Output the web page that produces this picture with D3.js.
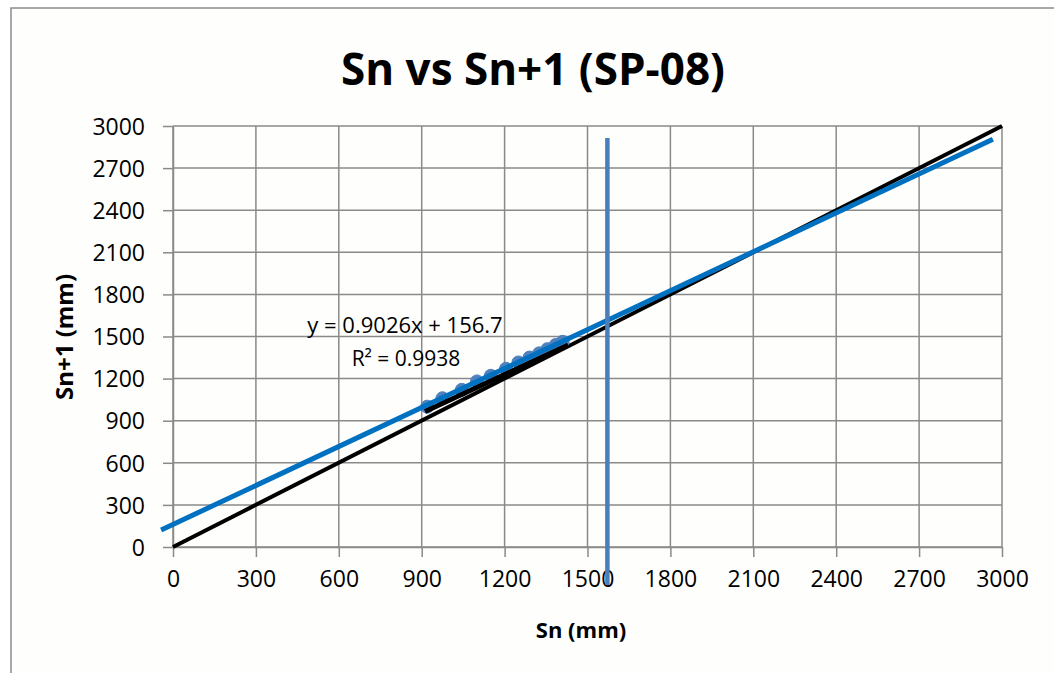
<!DOCTYPE html>
<html>
<head>
<meta charset="utf-8">
<script src="https://cdn.jsdelivr.net/npm/d3@7"></script>
<style>
  html, body { margin: 0; padding: 0; background: #ffffff; }
  svg { display: block; }
  text { font-family: "Open Sans", "Noto Sans", sans-serif; }
</style>
</head>
<body>
<svg id="chart" width="1054" height="673"></svg>
<script>
// ---- data ----
const title = "Sn vs Sn+1 (SP-08)";
const xTitle = "Sn (mm)";
const yTitle = "Sn+1 (mm)";
const xTicks = [0, 300, 600, 900, 1200, 1500, 1800, 2100, 2400, 2700, 3000];
const yTicks = [0, 300, 600, 900, 1200, 1500, 1800, 2100, 2400, 2700, 3000];
// observed settlement pairs (Sn, Sn+1) – blue markers
const sn  = [920, 975, 1045, 1100, 1150, 1205, 1250, 1290, 1325, 1355, 1385, 1410];
const sn1 = [1000, 1060, 1120, 1180, 1220, 1270, 1315, 1350, 1380, 1410, 1440, 1462];
// black line through the data
const dataLineX = [912, 1430];
const dataLineY = [965, 1440];
// 1:1 reference line
const refX = [0, 3000];
const refY = [0, 3000];
// linear trend line as drawn
const trendX = [-43, 2967];
const trendY = [121, 2906];
const equationText = "y = 0.9026x + 156.7";
const r2Text = "R² = 0.9938";
// vertical marker line (final settlement)
const vLineX = [1572, 1572];
const vLineY = [-270, 2915];

// ---- layout ----
const svg = d3.select("#chart");
const plot = { left: 173, right: 1002, top: 126, bottom: 547 };

const x = d3.scaleLinear().domain([0, 3000]).range([plot.left, plot.right]);
const y = d3.scaleLinear().domain([0, 3000]).range([plot.bottom, plot.top]);

// chart background + border
svg.append("rect").attr("x", 11).attr("y", 8).attr("width", 1100).attr("height", 700)
  .attr("fill", "#fefefc").attr("stroke", "#8c8c8c").attr("stroke-width", 1.5);

// title
svg.append("text").attr("x", 533).attr("y", 85).attr("text-anchor", "middle")
  .attr("font-size", 44).attr("font-weight", 700).attr("fill", "#000").text(title);

const gridColor = "#8a8a8a";

// gridlines
svg.append("g").selectAll("line.vg").data(xTicks).join("line")
  .attr("x1", d => x(d)).attr("x2", d => x(d))
  .attr("y1", plot.top).attr("y2", plot.bottom)
  .attr("stroke", gridColor).attr("stroke-width", 1.5);
svg.append("g").selectAll("line.hg").data(yTicks).join("line")
  .attr("x1", plot.left).attr("x2", plot.right)
  .attr("y1", d => y(d)).attr("y2", d => y(d))
  .attr("stroke", gridColor).attr("stroke-width", 1.5);

// axes
const xAxis = d3.axisBottom(x).tickValues(xTicks).tickSizeInner(10).tickSizeOuter(0).tickPadding(14).tickFormat(d3.format("d"));
const yAxis = d3.axisLeft(y).tickValues(yTicks).tickSizeInner(10).tickSizeOuter(0).tickPadding(18).tickFormat(d3.format("d"));

const gx = svg.append("g").attr("transform", `translate(0,${plot.bottom})`).call(xAxis);
const gy = svg.append("g").attr("transform", `translate(${plot.left},0)`).call(yAxis);
[gx, gy].forEach(g => {
  g.select(".domain").attr("stroke", gridColor).attr("stroke-width", 1.5);
  g.selectAll(".tick line").attr("stroke", gridColor).attr("stroke-width", 1.5);
  g.selectAll(".tick text").attr("font-size", 23).attr("fill", "#000")
    .attr("font-family", "'Open Sans', sans-serif");
});
gy.selectAll(".tick text").attr("dy", "0.36em");

// axis titles
svg.append("text").attr("x", 581).attr("y", 638).attr("text-anchor", "middle")
  .attr("font-size", 22).attr("font-weight", 700).text(xTitle);
svg.append("text").attr("transform", "translate(73,337) rotate(-90)")
  .attr("text-anchor", "middle").attr("font-size", 24).attr("font-weight", 700).text(yTitle);

const line = d3.line().x(d => x(d[0])).y(d => y(d[1]));

// 1:1 line
svg.append("path").datum(d3.zip(refX, refY)).attr("d", line)
  .attr("fill", "none").attr("stroke", "#000").attr("stroke-width", 4);

// markers
svg.append("g").selectAll("circle").data(d3.zip(sn, sn1)).join("circle")
  .attr("cx", d => x(d[0])).attr("cy", d => y(d[1])).attr("r", 6.5)
  .attr("fill", "#4f81bd").attr("stroke", "#4f81bd").attr("stroke-width", 1);

// black data line
svg.append("path").datum(d3.zip(dataLineX, dataLineY)).attr("d", line)
  .attr("fill", "none").attr("stroke", "#000").attr("stroke-width", 5);

// trend line
svg.append("path").datum(d3.zip(trendX, trendY)).attr("d", line)
  .attr("fill", "none").attr("stroke", "#0070c0").attr("stroke-width", 5);

// vertical marker line
svg.append("path").datum(d3.zip(vLineX, vLineY)).attr("d", line)
  .attr("fill", "none").attr("stroke", "#4a7ebb").attr("stroke-width", 4.5);

// equation labels
svg.append("text").attr("x", 405).attr("y", 333).attr("text-anchor", "middle")
  .attr("font-size", 22).text(equationText);
svg.append("text").attr("x", 406).attr("y", 366).attr("text-anchor", "middle")
  .attr("font-size", 21).text(r2Text);
</script>
</body>
</html>
